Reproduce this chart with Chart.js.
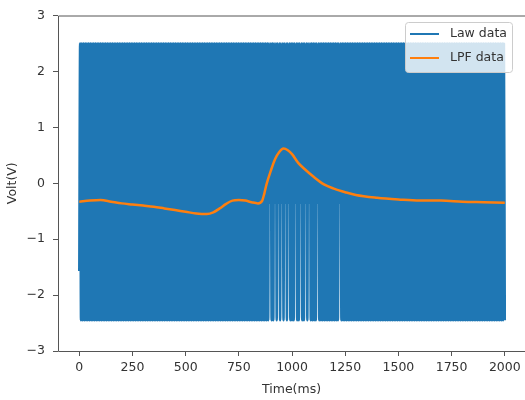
<!DOCTYPE html>
<html>
<head>
<meta charset="utf-8">
<script src="https://cdn.jsdelivr.net/npm/chart.js@4/dist/chart.umd.min.js"></script>
<style>
    html, body { margin: 0; padding: 0; background: #fff; overflow: hidden; }
    #wrap { width: 525px; height: 400px; }
</style>
</head>
<body>
<div id="wrap"><canvas id="volt-chart"></canvas></div>
<script>
// Raw samples, one char per 4 ms: H = high rail, L = low rail,
// m = shallow dip, M = first reading
const lawRows = [
    'MHLHLHLHLHLHLHLHLHLHLHLHLHLHLHLHLHLHLHLHLHLHLHLHLH',
    'LHLHLHLHLHLHLHLHLHLHLHLHLHLHLHLHLHLHLHLHLHLHLHLHLH',
    'LHLHLHLHLHLHLHLHLHLHLHLHLHLHLHLHLHLHLHLHLHLHLHLHLH',
    'LHLHLHLHLHLHLHLHLHLHLHLHLHLHLHLHLHLHLHLHLHLHLHLHLH',
    'LHLHLHLHLHLHLHLHLHLHLHLHmHLHLHmHLHmHLHmHLHmHLHmHLH',
    'LHLHmHLHLHmHLHLHmHLHmHLHLHLHLHmHLHLHLHLHLHLHLHLHLH',
    'LHLHLHmHLHLHLHLHLHLHLHLHLHLHLHLHLHLHLHLHLHLHLHLHLH',
    'LHLHLHLHLHLHLHLHLHLHLHLHLHLHLHLHLHLHLHLHLHLHLHLHLH',
    'LHLHLHLHLHLHLHLHLHLHLHLHLHLHLHLHLHLHLHLHLHLHLHLHLH',
    'LHLHLHLHLHLHLHLHLHLHLHLHLHLHLHLHLHLHLHLHLHLHLHLHLH',
    'L'
];
const lawLevels = { H: 2.5, L: -2.45, m: -0.35, M: -1.57 };

// Low-pass filtered trace
const lpfTimes = [0, 50, 100, 150, 200, 250, 300, 350, 400, 450, 500, 550, 600, 630, 660, 690,
    720, 750, 780, 810, 840, 860, 870, 880, 900, 920, 940, 960, 980, 1000, 1030, 1060, 1100,
    1150, 1200, 1250, 1300, 1400, 1500, 1600, 1700, 1800, 1900, 2000];
const lpfVolts = [-0.33, -0.31, -0.30, -0.33, -0.36, -0.38, -0.40, -0.42, -0.45, -0.48, -0.51,
    -0.54, -0.55, -0.52, -0.45, -0.37, -0.31, -0.30, -0.31, -0.34, -0.36, -0.31, -0.18, -0.02,
    0.22, 0.43, 0.56, 0.62, 0.59, 0.52, 0.36, 0.25, 0.12, -0.02, -0.10, -0.16, -0.21, -0.26,
    -0.29, -0.31, -0.31, -0.33, -0.34, -0.35];

const xTicks = [0, 250, 500, 750, 1000, 1250, 1500, 1750, 2000];
const yTicks = [-3, -2, -1, 0, 1, 2, 3];

const lawSamples = lawRows.join('').split('');
const lawPoints = lawSamples.map((c, i) => ({
    x: i * 2000 / (lawSamples.length - 1),
    y: lawLevels[c]
}));
const lpfPoints = lpfTimes.map((t, i) => ({ x: t, y: lpfVolts[i] }));

const FONT = { family: 'DejaVu Sans', size: 12.5 };
const INK = '#333';
const SPINE = '#555';

const minus = v => String(v).replace('-', '\u2212');

// left, top and bottom spines (the right one sits just past the canvas edge)
const framePlugin = {
    id: 'frame',
    afterDatasetsDraw(chart) {
        const { ctx, chartArea: a } = chart;
        ctx.save();
        ctx.strokeStyle = SPINE;
        ctx.lineWidth = 1;
        ctx.beginPath();
        ctx.moveTo(chart.width, a.top + 0.5);
        ctx.lineTo(a.left + 0.5, a.top + 0.5);
        ctx.lineTo(a.left + 0.5, a.bottom + 0.5);
        ctx.lineTo(chart.width, a.bottom + 0.5);
        ctx.stroke();
        ctx.restore();
    }
};

// boxed legend in the upper right corner
const boxLegend = {
    id: 'boxLegend',
    afterDraw(chart) {
        const ctx = chart.ctx;
        const x = 405, y = 22, w = 107, h = 50, r = 3;
        ctx.save();
        ctx.beginPath();
        ctx.roundRect(x + 0.5, y + 0.5, w, h, r);
        ctx.fillStyle = 'rgba(255,255,255,0.8)';
        ctx.fill();
        ctx.strokeStyle = '#ccc';
        ctx.lineWidth = 1;
        ctx.stroke();
        ctx.font = FONT.size + 'px ' + FONT.family;
        ctx.textBaseline = 'middle';
        chart.data.datasets.forEach((ds, i) => {
            const ly = 34 + i * 24;
            ctx.strokeStyle = ds.borderColor;
            ctx.lineWidth = 2;
            ctx.beginPath();
            ctx.moveTo(410, ly);
            ctx.lineTo(439, ly);
            ctx.stroke();
            ctx.fillStyle = INK;
            ctx.fillText(ds.label, 450, ly);
        });
        ctx.restore();
    }
};

new Chart(document.getElementById('volt-chart'), {
    type: 'line',
    data: {
        datasets: [
            {
                label: 'Law data',
                data: lawPoints,
                borderColor: '#1f77b4',
                backgroundColor: '#1f77b4',
                borderWidth: 2.5,
                borderJoinStyle: 'bevel',
                cubicInterpolationMode: 'monotone',
                pointRadius: 0,
                fill: false,
                order: 2
            },
            {
                label: 'LPF data',
                data: lpfPoints,
                borderColor: '#ff7f0e',
                backgroundColor: '#ff7f0e',
                borderWidth: 2.5,
                cubicInterpolationMode: 'monotone',
                pointRadius: 0,
                fill: false,
                order: 1
            }
        ]
    },
    options: {
        responsive: true,
        maintainAspectRatio: false,
        animation: false,
        layout: { padding: { left: 0, right: 0, top: 13, bottom: 0 } },
        plugins: {
            legend: { display: false },
            tooltip: { enabled: false }
        },
        scales: {
            x: {
                type: 'linear',
                min: -100,
                max: 2095,
                afterBuildTicks: s => { s.ticks = xTicks.map(v => ({ value: v })); },
                afterFit: s => { s.height = 49; },
                border: { display: false },
                grid: { drawOnChartArea: false, drawTicks: true, tickLength: 5, tickColor: SPINE },
                ticks: {
                    color: INK,
                    font: FONT,
                    padding: 4,
                    autoSkip: false,
                    maxRotation: 0,
                    callback: v => minus(v)
                },
                title: {
                    display: true,
                    text: 'Time(ms)',
                    color: INK,
                    font: FONT,
                    padding: { top: 0, bottom: 2.5 }
                }
            },
            y: {
                type: 'linear',
                min: -3,
                max: 3,
                afterBuildTicks: s => { s.ticks = yTicks.map(v => ({ value: v })); },
                afterFit: s => { s.width = 58; },
                border: { display: false },
                grid: { drawOnChartArea: false, drawTicks: true, tickLength: 5, tickColor: SPINE },
                ticks: {
                    color: INK,
                    font: FONT,
                    padding: 8,
                    callback: v => minus(v)
                },
                title: {
                    display: true,
                    text: 'Volt(V)',
                    color: INK,
                    font: FONT,
                    padding: { top: 5.5, bottom: 0 }
                }
            }
        }
    },
    plugins: [framePlugin, boxLegend]
});
</script>
</body>
</html>
